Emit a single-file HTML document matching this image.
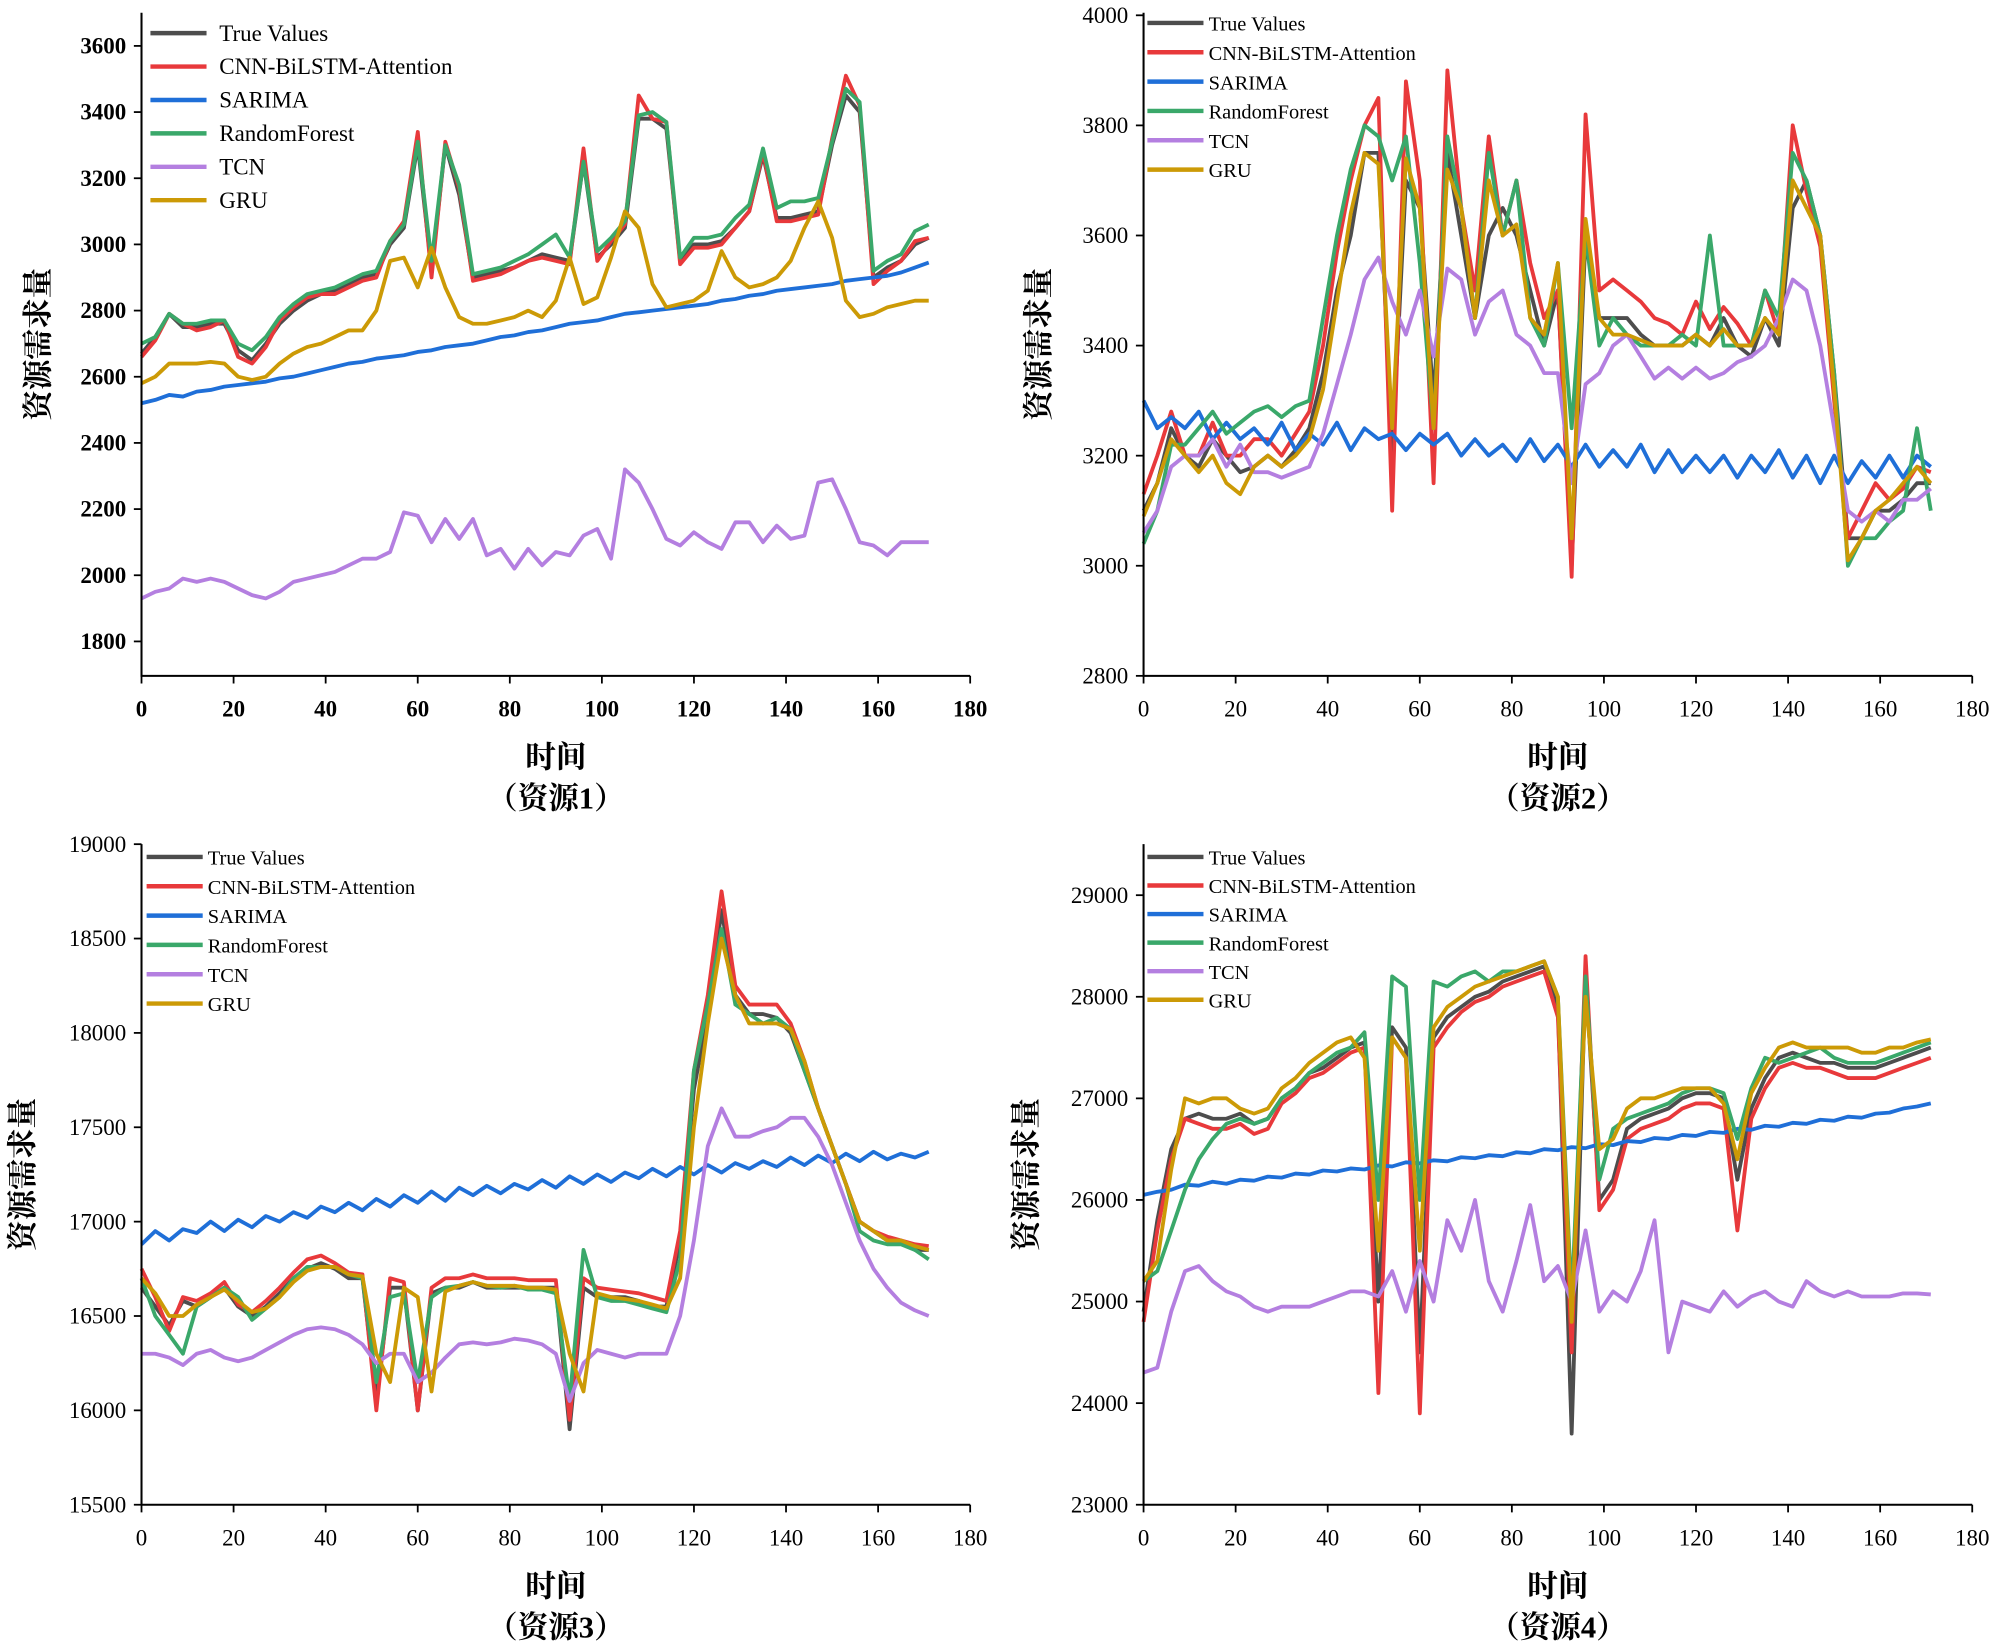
<!DOCTYPE html>
<html><head><meta charset="utf-8"><style>
html,body{margin:0;padding:0;background:#fff;}
svg{display:block;}
</style></head><body>
<svg id="chart" width="1999" height="1645" viewBox="0 0 1568 1290" preserveAspectRatio="none" xmlns="http://www.w3.org/2000/svg"></svg>
<script>
const seriesNames = ["True Values","CNN-BiLSTM-Attention","SARIMA","RandomForest","TCN","GRU"];
const seriesColors = ["#4d4d4d","#e8393b","#1f6fd8","#3aa86a","#b47fe0","#cc9a06"];
const xStep = 3;
const xTicks = [0,20,40,60,80,100,120,140,160,180];

const r1True = [2670,2720,2790,2750,2750,2760,2760,2680,2650,2700,2760,2800,2830,2850,2860,2880,2900,2910,3000,3050,3300,2920,3300,3150,2900,2910,2920,2930,2950,2970,2960,2950,3250,2960,3000,3050,3380,3380,3350,2950,3000,3000,3010,3050,3100,3270,3080,3080,3090,3100,3300,3450,3400,2900,2930,2950,3000,3020];
const r1Cnn = [2660,2710,2790,2760,2740,2750,2770,2660,2640,2690,2770,2810,2840,2850,2850,2870,2890,2900,3010,3070,3340,2900,3310,3170,2890,2900,2910,2930,2950,2960,2950,2940,3290,2950,3010,3060,3450,3380,3370,2940,2990,2990,3000,3050,3100,3280,3070,3070,3080,3090,3320,3510,3420,2880,2920,2950,3010,3020];
const r1Sarima = [2520,2530,2545,2540,2555,2560,2570,2575,2580,2585,2595,2600,2610,2620,2630,2640,2645,2655,2660,2665,2675,2680,2690,2695,2700,2710,2720,2725,2735,2740,2750,2760,2765,2770,2780,2790,2795,2800,2805,2810,2815,2820,2830,2835,2845,2850,2860,2865,2870,2875,2880,2890,2895,2900,2905,2915,2930,2945];
const r1Rf = [2700,2720,2790,2760,2760,2770,2770,2700,2680,2720,2780,2820,2850,2860,2870,2890,2910,2920,3010,3060,3310,2950,3300,3180,2910,2920,2930,2950,2970,3000,3030,2960,3250,2980,3020,3070,3390,3400,3370,2960,3020,3020,3030,3080,3120,3290,3110,3130,3130,3140,3310,3470,3430,2920,2950,2970,3040,3060];
const r1Tcn = [1930,1950,1960,1990,1980,1990,1980,1960,1940,1930,1950,1980,1990,2000,2010,2030,2050,2050,2070,2190,2180,2100,2170,2110,2170,2060,2080,2020,2080,2030,2070,2060,2120,2140,2050,2320,2280,2200,2110,2090,2130,2100,2080,2160,2160,2100,2150,2110,2120,2280,2290,2200,2100,2090,2060,2100,2100,2100];
const r1Gru = [2580,2600,2640,2640,2640,2645,2640,2600,2590,2600,2640,2670,2690,2700,2720,2740,2740,2800,2950,2960,2870,2990,2870,2780,2760,2760,2770,2780,2800,2780,2830,2960,2820,2840,2960,3100,3050,2880,2810,2820,2830,2860,2980,2900,2870,2880,2900,2950,3050,3130,3020,2830,2780,2790,2810,2820,2830,2830];

const r2True = [3100,3150,3250,3200,3180,3230,3200,3170,3180,3200,3180,3210,3250,3350,3500,3600,3750,3750,3200,3700,3650,3300,3750,3600,3450,3600,3650,3600,3500,3400,3500,3000,3600,3450,3450,3450,3420,3400,3400,3400,3420,3400,3450,3400,3380,3450,3400,3650,3700,3600,3350,3050,3050,3100,3100,3120,3150,3150];
const r2Cnn = [3130,3200,3280,3200,3200,3260,3200,3200,3230,3230,3200,3240,3280,3400,3570,3700,3800,3850,3100,3880,3700,3150,3900,3650,3500,3780,3600,3700,3550,3450,3500,2980,3820,3500,3520,3500,3480,3450,3440,3420,3480,3430,3470,3440,3400,3500,3420,3800,3680,3580,3300,3050,3100,3150,3120,3140,3180,3170];
const r2Sarima = [3300,3250,3270,3250,3280,3230,3260,3230,3250,3220,3260,3210,3240,3220,3260,3210,3250,3230,3240,3210,3240,3220,3240,3200,3230,3200,3220,3190,3230,3190,3220,3180,3220,3180,3210,3180,3220,3170,3210,3170,3200,3170,3200,3160,3200,3170,3210,3160,3200,3150,3200,3150,3190,3160,3200,3160,3200,3180];
const r2Rf = [3040,3100,3220,3220,3250,3280,3240,3260,3280,3290,3270,3290,3300,3450,3600,3720,3800,3780,3700,3780,3550,3250,3780,3650,3450,3750,3600,3700,3450,3400,3550,3250,3600,3400,3450,3420,3400,3400,3400,3420,3400,3600,3400,3400,3400,3500,3450,3750,3700,3600,3350,3000,3050,3050,3080,3100,3250,3100];
const r2Tcn = [3060,3100,3180,3200,3200,3230,3180,3220,3170,3170,3160,3170,3180,3240,3330,3420,3520,3560,3480,3420,3500,3380,3540,3520,3420,3480,3500,3420,3400,3350,3350,3150,3330,3350,3400,3420,3380,3340,3360,3340,3360,3340,3350,3370,3380,3400,3450,3520,3500,3400,3250,3100,3080,3100,3080,3120,3120,3140];
const r2Gru = [3090,3150,3230,3200,3170,3200,3150,3130,3180,3200,3180,3200,3230,3320,3480,3640,3750,3730,3250,3740,3650,3250,3720,3650,3450,3700,3600,3620,3450,3420,3550,3050,3630,3450,3420,3420,3410,3400,3400,3400,3420,3400,3430,3400,3400,3450,3420,3700,3650,3600,3320,3010,3050,3100,3120,3150,3180,3150];

const r3True = [16650,16550,16450,16580,16550,16600,16650,16550,16500,16550,16620,16700,16750,16780,16750,16700,16700,16050,16650,16650,16000,16620,16650,16650,16680,16650,16650,16650,16650,16650,16650,15900,16650,16600,16600,16600,16580,16550,16550,16900,17700,18100,18650,18200,18100,18100,18080,18000,17800,17600,17400,17200,17000,16950,16900,16900,16850,16850];
const r3Cnn = [16750,16600,16420,16600,16580,16620,16680,16560,16520,16580,16650,16730,16800,16820,16780,16730,16720,16000,16700,16680,16000,16650,16700,16700,16720,16700,16700,16700,16690,16690,16690,15950,16700,16650,16640,16630,16620,16600,16580,16950,17800,18200,18750,18250,18150,18150,18150,18050,17850,17600,17400,17200,17000,16950,16920,16900,16880,16870];
const r3Sarima = [16880,16950,16900,16960,16940,17000,16950,17010,16970,17030,17000,17050,17020,17080,17050,17100,17060,17120,17080,17140,17100,17160,17110,17180,17140,17190,17150,17200,17170,17220,17180,17240,17200,17250,17210,17260,17230,17280,17240,17290,17250,17300,17260,17310,17280,17320,17290,17340,17300,17350,17310,17360,17320,17370,17330,17360,17340,17370];
const r3Rf = [16700,16500,16400,16300,16550,16600,16650,16600,16480,16540,16600,16700,16760,16760,16760,16720,16700,16150,16600,16620,16150,16600,16650,16660,16680,16660,16650,16660,16640,16640,16620,16050,16850,16600,16580,16580,16560,16540,16520,16800,17800,18150,18550,18150,18100,18050,18080,18020,17800,17600,17400,17200,16950,16900,16880,16880,16850,16800];
const r3Tcn = [16300,16300,16280,16240,16300,16320,16280,16260,16280,16320,16360,16400,16430,16440,16430,16400,16350,16250,16300,16300,16150,16200,16280,16350,16360,16350,16360,16380,16370,16350,16300,16050,16250,16320,16300,16280,16300,16300,16300,16500,16900,17400,17600,17450,17450,17480,17500,17550,17550,17450,17300,17100,16900,16750,16650,16570,16530,16500];
const r3Gru = [16700,16620,16500,16500,16560,16600,16640,16580,16520,16540,16600,16680,16740,16760,16760,16720,16710,16300,16150,16650,16600,16100,16630,16660,16680,16660,16660,16660,16650,16650,16640,16300,16100,16620,16600,16590,16580,16560,16540,16700,17500,18050,18500,18200,18050,18050,18050,18020,17850,17600,17400,17200,17000,16950,16900,16900,16870,16850];

const r4True = [24900,25800,26500,26800,26850,26800,26800,26850,26750,26800,27000,27100,27250,27300,27400,27500,27550,25000,27700,27500,24500,27600,27800,27900,28000,28050,28150,28200,28250,28300,27900,23700,28200,26000,26200,26700,26800,26850,26900,27000,27050,27050,27000,26200,26900,27200,27400,27450,27400,27350,27350,27300,27300,27300,27350,27400,27450,27500];
const r4Cnn = [24800,25700,26400,26800,26750,26700,26700,26750,26650,26700,26950,27050,27200,27250,27350,27450,27500,24100,27600,27400,23900,27500,27700,27850,27950,28000,28100,28150,28200,28250,27800,24500,28400,25900,26100,26600,26700,26750,26800,26900,26950,26950,26900,25700,26800,27100,27300,27350,27300,27300,27250,27200,27200,27200,27250,27300,27350,27400];
const r4Sarima = [26050,26080,26100,26150,26140,26180,26160,26200,26190,26230,26220,26260,26250,26290,26280,26310,26300,26340,26330,26370,26360,26390,26380,26420,26410,26440,26430,26470,26460,26500,26490,26520,26510,26550,26540,26580,26570,26610,26600,26640,26630,26670,26660,26700,26690,26730,26720,26760,26750,26790,26780,26820,26810,26850,26860,26900,26920,26950];
const r4Rf = [25200,25300,25700,26100,26400,26600,26750,26800,26750,26800,27000,27100,27250,27350,27450,27500,27650,26000,28200,28100,26000,28150,28100,28200,28250,28150,28250,28250,28300,28350,28000,25000,28200,26200,26700,26800,26850,26900,26950,27050,27100,27100,27050,26600,27100,27400,27350,27400,27450,27500,27400,27350,27350,27350,27400,27450,27500,27550];
const r4Tcn = [24300,24350,24900,25300,25350,25200,25100,25050,24950,24900,24950,24950,24950,25000,25050,25100,25100,25050,25300,24900,25400,25000,25800,25500,26000,25200,24900,25400,25950,25200,25350,25000,25700,24900,25100,25000,25300,25800,24500,25000,24950,24900,25100,24950,25050,25100,25000,24950,25200,25100,25050,25100,25050,25050,25050,25080,25080,25070];
const r4Gru = [25200,25400,26300,27000,26950,27000,27000,26900,26850,26900,27100,27200,27350,27450,27550,27600,27400,25500,27600,27400,25500,27700,27900,28000,28100,28150,28200,28250,28300,28350,28000,24800,28000,26500,26600,26900,27000,27000,27050,27100,27100,27100,26950,26400,27050,27300,27500,27550,27500,27500,27500,27500,27450,27450,27500,27500,27550,27580];

const r1Ticks=[1800,2000,2200,2400,2600,2800,3000,3200,3400,3600];
const r2Ticks=[2800,3000,3200,3400,3600,3800,4000];
const r3Ticks=[15500,16000,16500,17000,17500,18000,18500,19000];
const r4Ticks=[23000,24000,25000,26000,27000,28000,29000];

const panels = [
 {id:1,x0:111,x1:761,top:10,bottom:530,yTop:3600,yTopPx:36,yBot:1800,yBotPx:503,ticks:r1Ticks,data:[r1True,r1Cnn,r1Sarima,r1Rf,r1Tcn,r1Gru],bold:true,legX:118,legY:26,legDy:26.2,legFs:18,tickFs:18,ylabX:30},
 {id:2,x0:897,x1:1547,top:10,bottom:530,yTop:4000,yTopPx:12,yBot:2800,yBotPx:530,ticks:r2Ticks,data:[r2True,r2Cnn,r2Sarima,r2Rf,r2Tcn,r2Gru],bold:false,legX:900,legY:18,legDy:23,legFs:16,tickFs:18,ylabX:815},
 {id:3,x0:111,x1:761,top:662,bottom:1180,yTop:19000,yTopPx:662,yBot:15500,yBotPx:1180,ticks:r3Ticks,data:[r3True,r3Cnn,r3Sarima,r3Rf,r3Tcn,r3Gru],bold:false,legX:115,legY:672,legDy:23,legFs:16,tickFs:18,ylabX:18},
 {id:4,x0:897,x1:1547,top:662,bottom:1180,yTop:29000,yTopPx:702,yBot:23000,yBotPx:1180,ticks:r4Ticks,data:[r4True,r4Cnn,r4Sarima,r4Rf,r4Tcn,r4Gru],bold:false,legX:900,legY:672,legDy:22.4,legFs:16,tickFs:18,ylabX:805}
];
const NS="http://www.w3.org/2000/svg";
const svg=document.getElementById('chart');
function mk(tag,attrs,parent){const e=document.createElementNS(NS,tag);for(const k in attrs)e.setAttribute(k,attrs[k]);(parent||svg).appendChild(e);return e;}
const serif='"Liberation Serif","Noto Serif CJK SC",serif';
panels.forEach(p=>{
  const g=mk('g',{});
  
  
  const xs=v=>p.x0+(v/180)*(p.x1-p.x0);
  const ys=v=>p.yBotPx+(v-p.yBot)/(p.yTop-p.yBot)*(p.yTopPx-p.yBotPx);
  p.data.forEach((arr,si)=>{
    const d=arr.map((v,i)=>(i?'L':'M')+xs(i*xStep).toFixed(1)+','+ys(v).toFixed(1)).join(' ');
    const path=mk('path',{d:d,fill:'none',stroke:seriesColors[si],'stroke-width':3,'stroke-linejoin':'round'},g);
    
    
  });
  const ax=mk('path',{d:`M${p.x0},${p.top} L${p.x0},${p.bottom} L${p.x1},${p.bottom}`,fill:'none',stroke:'#000','stroke-width':1.6},g);
  
  
  const fw=p.bold?'bold':'normal';
  xTicks.forEach(t=>{
    mk('line',{x1:xs(t),x2:xs(t),y1:p.bottom,y2:p.bottom+6,stroke:'#000','stroke-width':1.4},g);
    const tx=mk('text',{x:xs(t),y:p.bottom+32,'text-anchor':'middle','font-family':serif,'font-size':p.tickFs,'font-weight':fw,fill:'#000'},g);
    tx.textContent=t;
    
    
  });
  p.ticks.forEach(t=>{
    mk('line',{x1:p.x0-6,x2:p.x0,y1:ys(t),y2:ys(t),stroke:'#000','stroke-width':1.4},g);
    const tx=mk('text',{x:p.x0-12,y:ys(t)+6,'text-anchor':'end','font-family':serif,'font-size':p.tickFs,'font-weight':fw,fill:'#000'},g);
    tx.textContent=t;
    
    
  });
  const cx=(p.x0+p.x1)/2;
  const xl=mk('text',{x:cx,y:p.bottom+72,'text-anchor':'middle','font-family':serif,'font-size':24,'font-weight':'bold'},g);
  xl.textContent='时间';
  
  
  const sl=mk('text',{x:cx,y:p.bottom+104,'text-anchor':'middle','font-family':serif,'font-size':24,'font-weight':'bold'},g);
  sl.textContent='（资源'+p.id+'）';
  
  
  const ymid=(p.top+p.bottom)/2;
  const yl=mk('text',{x:p.ylabX,y:ymid,'text-anchor':'middle','font-family':serif,'font-size':24,'font-weight':'bold',transform:`rotate(-90 ${p.ylabX} ${ymid}) translate(0 8)`},g);
  yl.textContent='资源需求量';
  
  
  seriesNames.forEach((n,si)=>{
    const y=p.legY+si*p.legDy;
    const le=mk('g',{},g);
    
    
    mk('line',{x1:p.legX,x2:p.legX+44,y1:y,y2:y,stroke:seriesColors[si],'stroke-width':3.5},le);
    const t=mk('text',{x:p.legX+(p.id===1?54:48),y:y+6,'font-family':serif,'font-size':p.legFs,fill:'#000'},le);
    t.textContent=n;
  });
});
</script>
</body></html>
